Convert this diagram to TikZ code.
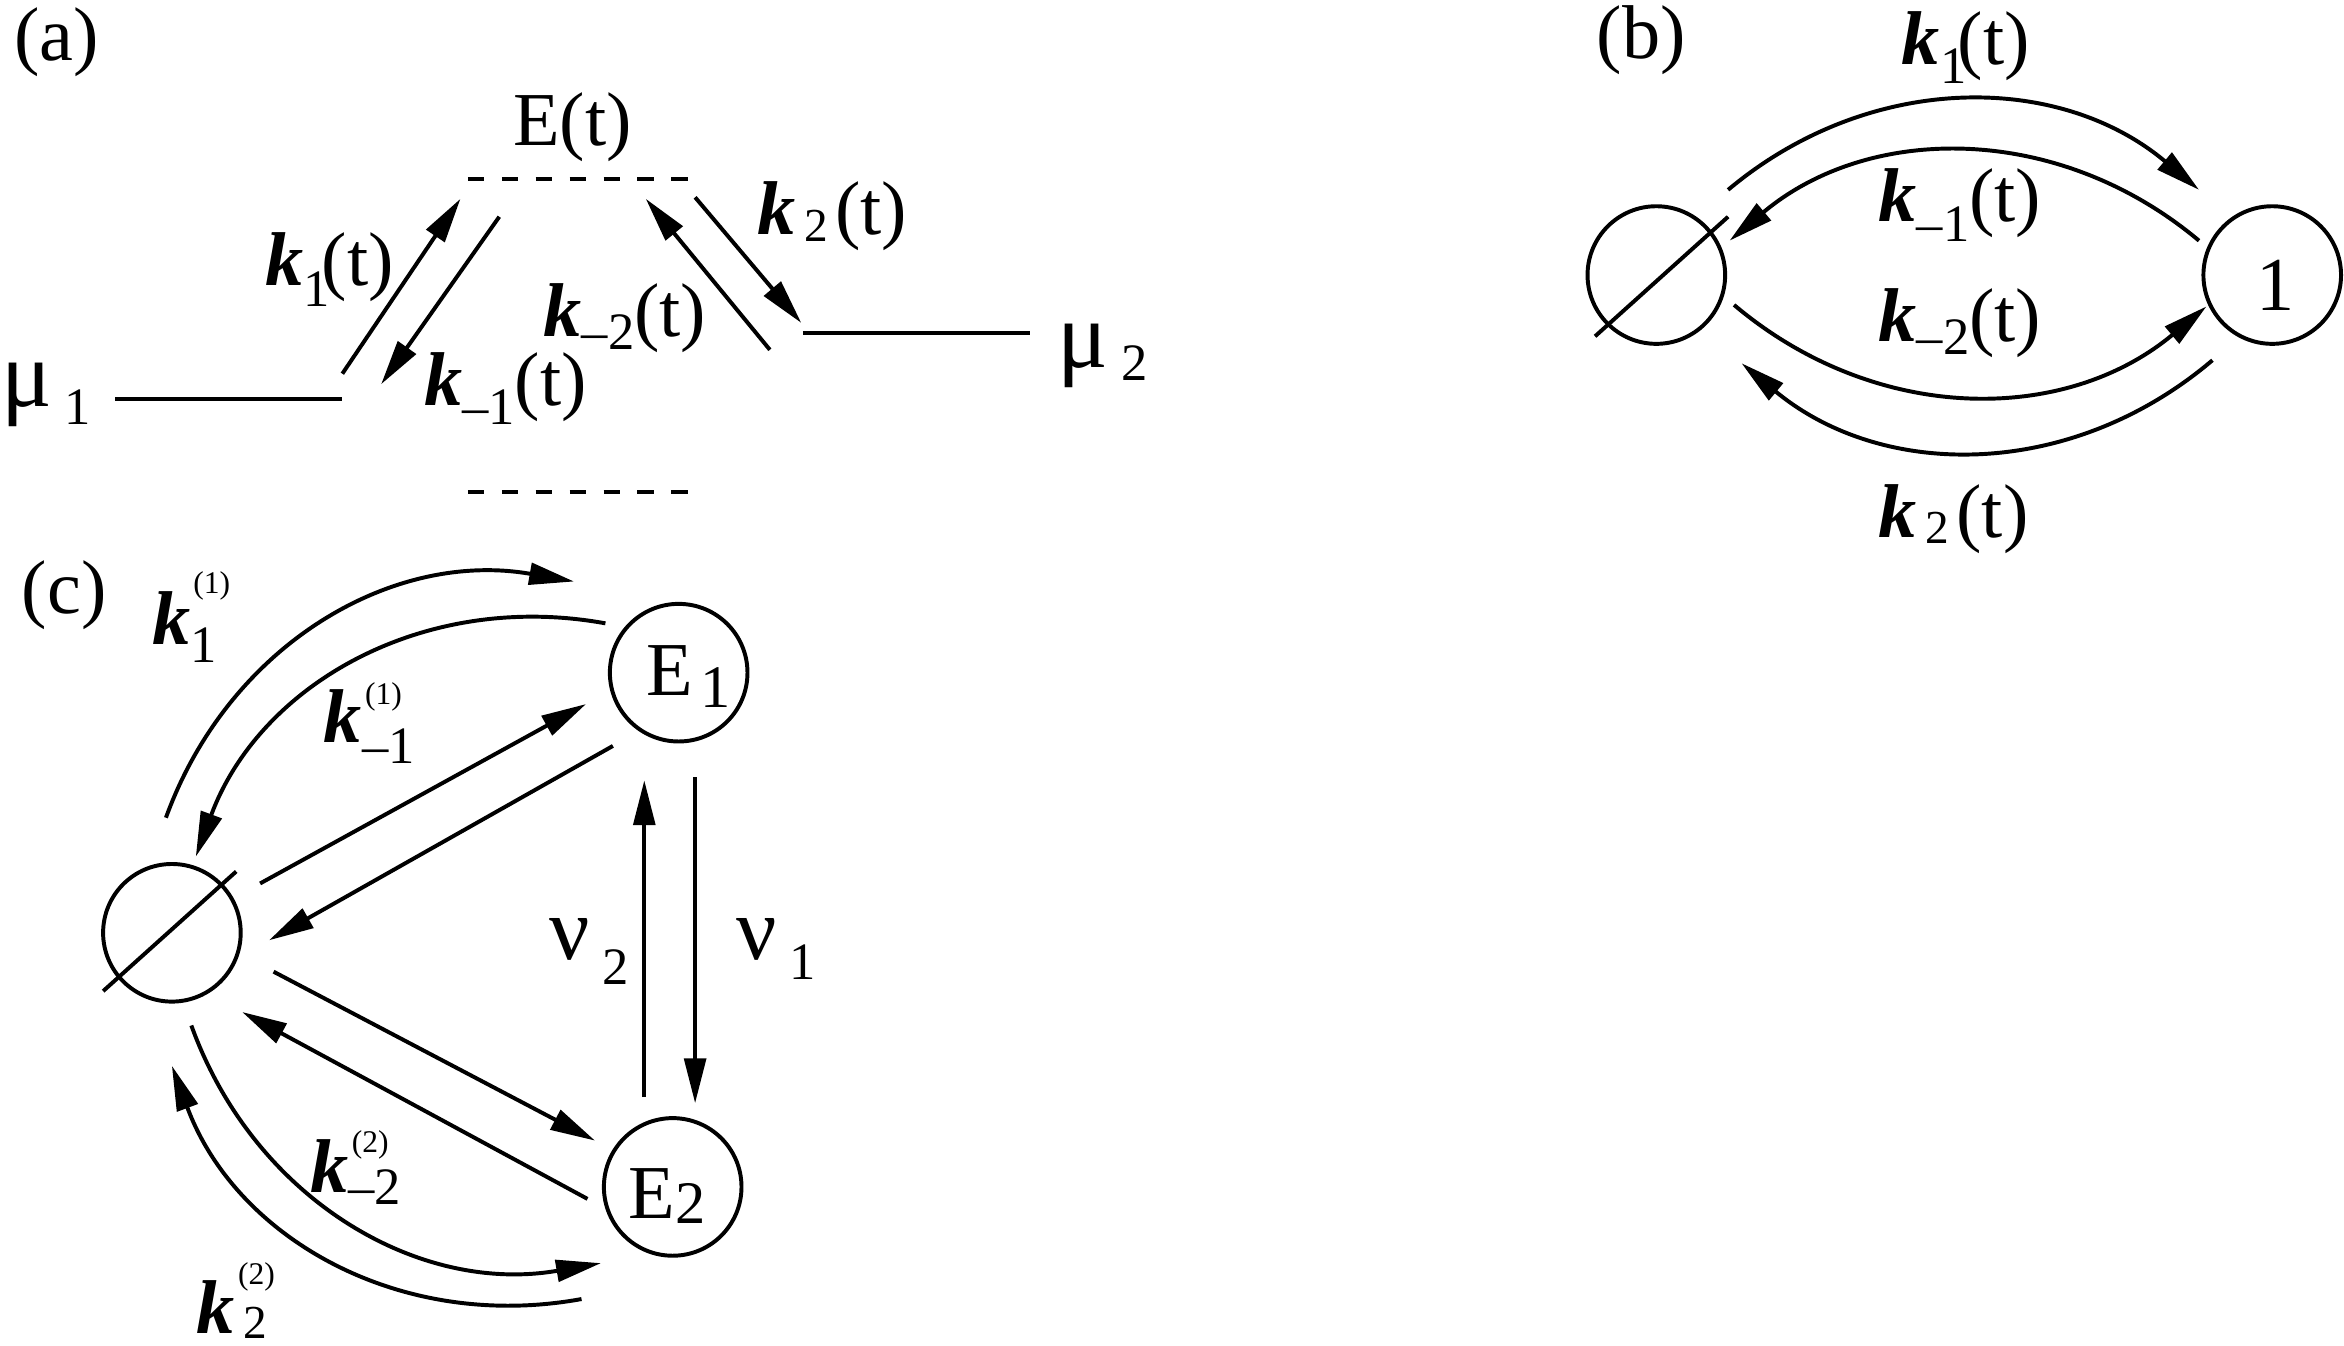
\documentclass[tikz,border=0pt]{standalone}
\usepackage{fontspec}
\setmainfont{Liberation Serif}
\usetikzlibrary{arrows.meta}

\tikzset{
	txt/.style={inner sep=0pt,font=\fontsize{14.5}{16}\selectfont},
	lab/.style={txt,anchor=base west},
	state/.style={draw,circle,line width=0.75pt,inner sep=0pt,minimum size=0.92cm},
	line/.style={line width=0.75pt},
	flow/.style={line width=0.75pt,-{Triangle[length=3mm,width=1.45mm]}},
	level/.style={line width=0.75pt,dash pattern=on 3.1pt off 3.35pt},
}
\newcommand{\kbold}{{\bfseries\itshape k}}
\newcommand{\lowr}[2]{\raisebox{-#1}{\fontsize{10}{10}\selectfont #2}}
\newcommand{\kk}[2]{\kbold\lowr{#1}{#2}(t)}
\newcommand{\kksup}[4]{\kbold\rlap{\raisebox{#3}{\kern0.6pt\fontsize{6}{6}\selectfont #4}}\lowr{#1}{#2}}
\newcommand{\bigsym}[4]{{\fontsize{#2}{16}\selectfont #3}\,\lowr{#1}{#4}}

\begin{document}
\begin{tikzpicture}[x=0.01cm,y=-0.01cm]
	\useasboundingbox (0,0) rectangle (1568,900.4);

	% -- Panel (a): levels
	\node[txt] (labela) at (38,28) {(a)};
	\node[txt] (barrier) at (383,85) {E(t)};
	\coordinate (topl) at (313,120);
	\coordinate (topr) at (460,120);
	\coordinate (lowl) at (313,329);
	\coordinate (lowr) at (460,329);
	\coordinate (mual) at (77,267);
	\coordinate (muar) at (229,267);
	\coordinate (mubl) at (537,223);
	\coordinate (mubr) at (689,223);
	\draw[level] (topl) -- (topr);
	\draw[level] (lowl) -- (lowr);
	\draw[line] (mual) -- (muar);
	\draw[line] (mubl) -- (mubr);
	\node[lab] (mua) at (0,272) {\bigsym{3.4pt}{18}{μ}{1}};
	\node[lab] (mub) at (707,246) {\bigsym{2.5pt}{18}{μ}{2}};

	% -- Panel (a): rates
	\coordinate (aups) at (229,250);
	\coordinate (aupe) at (308,133);
	\coordinate (adns) at (334,145);
	\coordinate (adne) at (255,257);
	\coordinate (bups) at (515,234);
	\coordinate (bupe) at (432,133);
	\coordinate (bdns) at (465,132);
	\coordinate (bdne) at (536,216);
	\draw[flow] (aups) -- (aupe);
	\draw[flow] (adns) -- (adne);
	\draw[flow] (bups) -- (bupe);
	\draw[flow] (bdns) -- (bdne);
	\node[lab] (ka) at (177,191) {\kk{3.9pt}{1\kern-1.6pt}};
	\node[lab] (kma) at (283,271) {\kk{3.7pt}{–1}};
	\node[lab] (kmb) at (363,225) {\kk{2.5pt}{–2}};
	\node[lab] (kb) at (506,157) {\kk{1.3pt}{\,\small 2\kern1.4pt}};

	% -- Panel (b)
	\node[txt] (labelb) at (1098,27) {(b)};
	\node[state] (emptyb) at (1108,184) {};
	\node[state] (oneb) at (1520,184) {};
	\node[txt] (onetxt) at (1522,191) {1};
	\coordinate (slashbs) at (1067,225);
	\coordinate (slashbe) at (1156,145);
	\draw[line] (slashbs) -- (slashbe);
	\coordinate (pas) at (1156,127);
	\coordinate (pae) at (1471,127);
	\coordinate (qas) at (1471,161);
	\coordinate (qae) at (1157,161);
	\coordinate (qbs) at (1160,204);
	\coordinate (qbe) at (1476,205);
	\coordinate (pbs) at (1480,241);
	\coordinate (pbe) at (1165,243);
	\draw[flow] (pas) to[bend left=40] (pae);
	\draw[flow] (qas) to[bend right=40] (qae);
	\draw[flow] (qbs) to[bend right=40] (qbe);
	\draw[flow] (pbs) to[bend left=40] (pbe);
	\node[lab] (kone) at (1271.6,43.3) {\kk{3.5pt}{1\kern-1.6pt}};
	\node[lab] (kmone) at (1256,148.4) {\kk{3.7pt}{–1}};
	\node[lab] (kmtwo) at (1256,228.7) {\kk{2.4pt}{–2}};
	\node[lab] (ktwo) at (1256,359.6) {\kk{1.2pt}{\,\small 2\kern1.4pt}};

	% -- Panel (c)
	\node[txt] (labelc) at (43,398) {(c)};
	\node[state] (emptyc) at (115,624) {};
	\node[state] (eone) at (454,450) {};
	\node[state] (etwo) at (450,794) {};
	\node[lab] (eonetxt) at (432,465) {E\kern1.4pt\lowr{2.4pt}{\fontsize{11.5}{12}\selectfont 1}};
	\node[lab] (etwotxt) at (420,815) {E\lowr{1pt}{\fontsize{11.5}{12}\selectfont 2}};
	\coordinate (slashcs) at (69,663);
	\coordinate (slashce) at (158,583);
	\draw[line] (slashcs) -- (slashce);

	% -- Panel (c): curved rates
	\coordinate (ras) at (111,547);
	\coordinate (rae) at (384,389);
	\coordinate (sas) at (405,417);
	\coordinate (sae) at (131,573);
	\coordinate (sbs) at (128,686);
	\coordinate (sbe) at (402,845);
	\coordinate (rbs) at (389,869);
	\coordinate (rbe) at (115,713);
	\draw[flow] (ras) to[bend left=40] (rae);
	\draw[flow] (sas) to[bend right=40] (sae);
	\draw[flow] (sbs) to[bend right=40] (sbe);
	\draw[flow] (rbs) to[bend left=40] (rbe);

	% -- Panel (c): straight rates
	\coordinate (tas) at (174,591);
	\coordinate (tae) at (392,471);
	\coordinate (uas) at (410,499);
	\coordinate (uae) at (180,629);
	\coordinate (tbs) at (183,650);
	\coordinate (tbe) at (398,763);
	\coordinate (ubs) at (393,802);
	\coordinate (ube) at (162,677);
	\coordinate (nus) at (431,734);
	\coordinate (nue) at (431,522);
	\coordinate (mus) at (465,520);
	\coordinate (mue) at (465,738);
	\draw[flow] (tas) -- (tae);
	\draw[flow] (uas) -- (uae);
	\draw[flow] (tbs) -- (tbe);
	\draw[flow] (ubs) -- (ube);
	\draw[flow] (nus) -- (nue);
	\draw[flow] (mus) -- (mue);

	% -- Panel (c): labels
	\node[lab] (kcone) at (101,431) {\kksup{3.4pt}{1}{9.7pt}{(1)}};
	\node[lab] (kcmone) at (216,497) {\kksup{4pt}{–1}{7.4pt}{(1)}};
	\node[lab] (kcmtwo) at (207,797.7) {\kksup{2.3pt}{–2}{7.6pt}{(2)}};
	\node[lab] (kctwo) at (131,892) {\kksup{1pt}{\,\small 2}{9.4pt}{(2)}};
	\node[lab] (nutwo) at (367,642) {\bigsym{4.8pt}{17}{ν}{2}};
	\node[lab] (nuone) at (492,642) {\bigsym{3.7pt}{17}{ν}{1}};
\end{tikzpicture}
\end{document}
